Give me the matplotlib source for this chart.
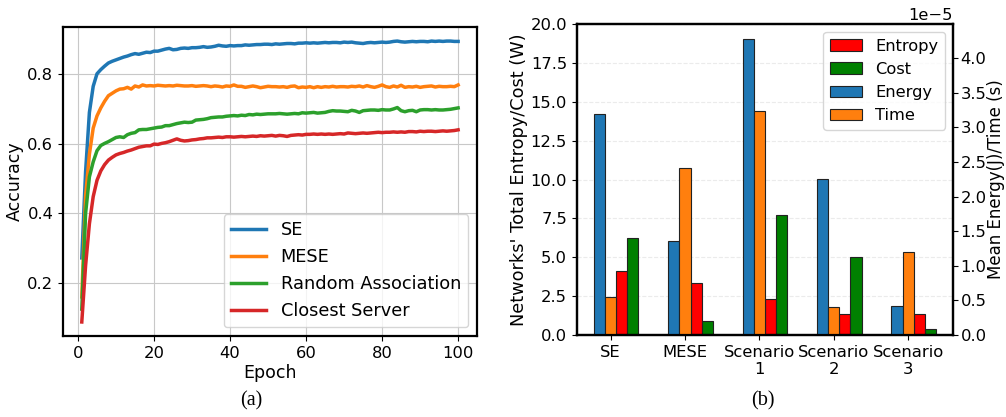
import numpy as np
import matplotlib
matplotlib.use("Agg")
import matplotlib.pyplot as plt
from matplotlib.ticker import MultipleLocator

# ---- accuracy per epoch (left panel) ----
epochs = np.arange(1, 101)

acc_se = [0.272, 0.520, 0.690, 0.765, 0.801, 0.813, 0.823, 0.832, 0.837, 0.841,
          0.845, 0.849, 0.852, 0.856, 0.859, 0.857, 0.860, 0.863, 0.862, 0.866,
          0.866, 0.869, 0.872, 0.874, 0.870, 0.871, 0.874, 0.875, 0.874, 0.876,
          0.876, 0.877, 0.879, 0.877, 0.878, 0.880, 0.883, 0.881, 0.880, 0.882,
          0.881, 0.882, 0.882, 0.884, 0.883, 0.884, 0.885, 0.885, 0.886, 0.886,
          0.885, 0.887, 0.886, 0.887, 0.888, 0.888, 0.887, 0.889, 0.889, 0.890,
          0.889, 0.890, 0.889, 0.890, 0.891, 0.890, 0.891, 0.891, 0.890, 0.892,
          0.891, 0.892, 0.890, 0.889, 0.888, 0.890, 0.891, 0.890, 0.891, 0.892,
          0.891, 0.892, 0.894, 0.895, 0.893, 0.892, 0.893, 0.894, 0.893, 0.894,
          0.894, 0.893, 0.895, 0.894, 0.895, 0.894, 0.895, 0.895, 0.894, 0.894]

acc_mese = [0.160, 0.450, 0.570, 0.645, 0.680, 0.703, 0.722, 0.738, 0.745, 0.752,
            0.757, 0.758, 0.762, 0.757, 0.766, 0.763, 0.769, 0.766, 0.767, 0.766,
            0.768, 0.767, 0.766, 0.767, 0.766, 0.768, 0.767, 0.766, 0.766, 0.767,
            0.765, 0.766, 0.767, 0.766, 0.764, 0.766, 0.765, 0.763, 0.766, 0.765,
            0.769, 0.765, 0.765, 0.762, 0.764, 0.766, 0.764, 0.761, 0.763, 0.765,
            0.764, 0.764, 0.763, 0.764, 0.762, 0.765, 0.766, 0.761, 0.763, 0.762,
            0.764, 0.761, 0.764, 0.762, 0.764, 0.763, 0.765, 0.763, 0.764, 0.764,
            0.763, 0.765, 0.764, 0.766, 0.763, 0.767, 0.764, 0.762, 0.765, 0.769,
            0.764, 0.762, 0.766, 0.763, 0.768, 0.762, 0.764, 0.763, 0.765, 0.762,
            0.764, 0.765, 0.766, 0.763, 0.765, 0.764, 0.764, 0.765, 0.764, 0.769]

acc_random = [0.125, 0.400, 0.505, 0.548, 0.580, 0.595, 0.601, 0.606, 0.612, 0.618,
              0.620, 0.618, 0.626, 0.630, 0.632, 0.640, 0.641, 0.641, 0.643, 0.645,
              0.647, 0.648, 0.652, 0.652, 0.655, 0.658, 0.660, 0.662, 0.661, 0.662,
              0.668, 0.669, 0.670, 0.672, 0.675, 0.676, 0.677, 0.677, 0.679, 0.680,
              0.681, 0.680, 0.682, 0.681, 0.684, 0.683, 0.685, 0.684, 0.685, 0.686,
              0.686, 0.686, 0.687, 0.686, 0.685, 0.686, 0.687, 0.686, 0.689, 0.688,
              0.689, 0.690, 0.688, 0.689, 0.690, 0.693, 0.695, 0.694, 0.694, 0.693,
              0.692, 0.696, 0.694, 0.690, 0.695, 0.696, 0.697, 0.697, 0.696, 0.698,
              0.697, 0.697, 0.700, 0.704, 0.695, 0.692, 0.695, 0.696, 0.692, 0.697,
              0.698, 0.698, 0.697, 0.698, 0.697, 0.697, 0.698, 0.699, 0.701, 0.703]

acc_closest = [0.088, 0.250, 0.370, 0.448, 0.495, 0.522, 0.540, 0.553, 0.561, 0.568,
               0.572, 0.575, 0.579, 0.582, 0.586, 0.590, 0.592, 0.594, 0.594, 0.599,
               0.598, 0.601, 0.603, 0.606, 0.610, 0.614, 0.610, 0.608, 0.609, 0.611,
               0.612, 0.614, 0.615, 0.617, 0.617, 0.618, 0.619, 0.618, 0.620, 0.620,
               0.619, 0.620, 0.621, 0.620, 0.621, 0.622, 0.621, 0.623, 0.622, 0.623,
               0.624, 0.622, 0.624, 0.623, 0.621, 0.624, 0.625, 0.626, 0.625, 0.627,
               0.627, 0.628, 0.627, 0.628, 0.627, 0.628, 0.627, 0.628, 0.629, 0.628,
               0.631, 0.630, 0.629, 0.630, 0.631, 0.630, 0.631, 0.632, 0.633, 0.632,
               0.633, 0.633, 0.634, 0.633, 0.634, 0.633, 0.635, 0.635, 0.634, 0.636,
               0.635, 0.636, 0.636, 0.635, 0.636, 0.637, 0.636, 0.637, 0.638, 0.640]

# ---- per-scheme resource numbers (right panel) ----
schemes = ['SE', 'MESE', 'Scenario\n1', 'Scenario\n2', 'Scenario\n3']
entropy = [4.10, 3.37, 2.32, 1.32, 1.32]          # W
cost = [6.22, 0.88, 7.72, 5.00, 0.37]             # W
energy = [3.19e-5, 1.36e-5, 4.28e-5, 2.25e-5, 0.425e-5]   # J
time_s = [0.546e-5, 2.42e-5, 3.23e-5, 0.40e-5, 1.20e-5]   # s

fig = plt.figure(figsize=(10.06, 4.17), dpi=100)

# (a) accuracy curves
ax = fig.add_axes([0.0626, 0.1942, 0.4115, 0.741])
ax.plot(epochs, acc_se, color='#1f77b4', lw=2.5, label='SE')
ax.plot(epochs, acc_mese, color='#ff7f0e', lw=2.5, label='MESE')
ax.plot(epochs, acc_random, color='#2ca02c', lw=2.5, label='Random Association')
ax.plot(epochs, acc_closest, color='#d62728', lw=2.5, label='Closest Server')
ax.set_yticks([0.2, 0.4, 0.6, 0.8])
ax.grid(True, color='#c8c8c8', lw=0.8)
ax.set_xlabel('Epoch', fontsize=12.5, labelpad=2)
ax.set_ylabel('Accuracy', fontsize=12.5, labelpad=2)
ax.tick_params(labelsize=11.8)
for s in ax.spines.values():
    s.set_linewidth(1.6)
ax.legend(loc='lower right', fontsize=12.8)

# (b) grouped bars, two y axes
axb = fig.add_axes([0.5733, 0.1966, 0.3741, 0.7458])
ax2 = axb.twinx()
x = np.arange(len(schemes))
w = 0.15
h_en = ax2.bar(x - w, energy, w, color='#1f77b4', edgecolor='#222222', lw=0.8, label='Energy')
h_ti = ax2.bar(x, time_s, w, color='#ff7f0e', edgecolor='#222222', lw=0.8, label='Time')
h_ep = axb.bar(x + w, entropy, w, color='red', edgecolor='#222222', lw=0.8, label='Entropy')
h_co = axb.bar(x + 2 * w, cost, w, color='green', edgecolor='#222222', lw=0.8, label='Cost')
axb.set_ylim(0, 20)
axb.set_xticks(x)
axb.set_xticklabels(schemes)
axb.yaxis.grid(True, linestyle='--', alpha=0.25)
axb.set_axisbelow(True)
ax2.yaxis.set_major_locator(MultipleLocator(0.5e-5))
axb.set_ylabel("Networks' Total Entropy/Cost (W)", fontsize=12.8, labelpad=2)
ax2.set_ylabel('Mean Energy(J)/Time (s)', fontsize=12, labelpad=0)
axb.tick_params(labelsize=11.8)
ax2.tick_params(labelsize=11.8, pad=2)
ax2.yaxis.get_offset_text().set_fontsize(11.8)
for a in (axb, ax2):
    for s in a.spines.values():
        s.set_linewidth(1.6)
ax2.legend(handles=[h_ep, h_co, h_en, h_ti], loc='upper right', fontsize=11.7)

fig.text(251.7 / 1006, 1 - 401 / 417, '(a)', ha='center', va='center',
         family='Liberation Serif', fontsize=14.5)
fig.text(763 / 1006, 1 - 401 / 417, '(b)', ha='center', va='center',
         family='Liberation Serif', fontsize=14.5)

fig.savefig('out.png', dpi=100)
